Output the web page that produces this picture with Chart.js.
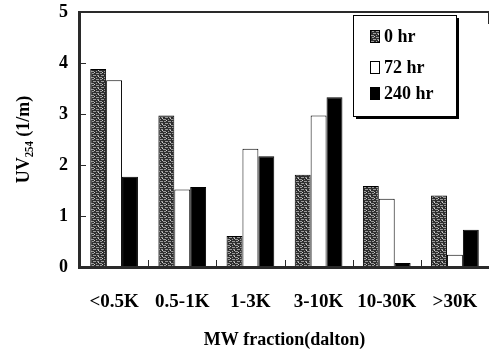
<!DOCTYPE html>
<html><head><meta charset="utf-8">
<script src="https://cdn.jsdelivr.net/npm/chart.js@4/dist/chart.umd.min.js"></script>
<style>html,body{margin:0;padding:0;background:#fff;}#wrap{width:490px;height:351px;}</style>
</head><body><div id="wrap"><canvas id="c" width="490" height="351"></canvas></div>
<script>
const categories = ['<0.5K', '0.5-1K', '1-3K', '3-10K', '10-30K', '>30K'];
const seriesLabels = ['0 hr', '72 hr', '240 hr'];
const hr0 = [3.88, 2.97, 0.61, 1.81, 1.59, 1.40];
const hr72 = [3.66, 1.52, 2.32, 2.97, 1.34, 0.24];
const hr240 = [1.77, 1.57, 2.17, 3.33, 0.08, 0.73];
const yTicks = [0, 1, 2, 3, 4, 5];

const FONT = '"Liberation Serif", "Times New Roman", serif';
const AXIS = '#2a2a2a';

function makePattern() {
  const pc = document.createElement('canvas');
  pc.width = 8; pc.height = 6;
  const g = pc.getContext('2d');
  g.fillStyle = '#2e2e2e'; g.fillRect(0, 0, 8, 6);
  g.fillStyle = '#9a9a9a';
  g.fillRect(0, 1, 3, 1); g.fillRect(4, 1, 2, 1);
  g.fillRect(1, 3, 2, 1); g.fillRect(5, 3, 3, 1);
  g.fillRect(0, 5, 1, 1); g.fillRect(3, 5, 3, 1);
  g.fillStyle = '#cfcfcf';
  g.fillRect(6, 0, 1, 1); g.fillRect(2, 4, 1, 1);
  return pc.getContext('2d').createPattern(pc, 'repeat');
}
const pat = makePattern();

const fills = [pat, '#ffffff', '#000000'];

const frame = {
  id: 'frame',
  afterDraw(chart) {
    const ctx = chart.ctx;
    const xs = chart.scales.x, ys = chart.scales.y;
    const L = Math.round(xs.left), R = Math.round(xs.right), T = Math.round(ys.top), B = Math.round(ys.bottom);
    ctx.save();
    ctx.fillStyle = AXIS;
    ctx.fillRect(L - 2, T - 1, 3, B - T + 3);
    ctx.fillRect(L - 2, B - 1, R - L + 2, 3);
    ctx.fillRect(L - 2, T - 1, R - L + 2, 2);
    ctx.fillRect(R - 1, T, 1, 12);
    yTicks.forEach(v => {
      const y = Math.round(ys.getPixelForValue(v));
      ctx.fillRect(L + 1, y, 5, 1);
    });
    const n = categories.length;
    for (let i = 1; i < n; i++) {
      const x = Math.round((xs.getPixelForValue(i - 1) + xs.getPixelForValue(i)) / 2);
      ctx.fillRect(x, B - 7, 1, 7);
    }
    // legend box
    const bx = 353, by = 15, bw = 103, bh = 101;
    ctx.fillStyle = '#000';
    ctx.fillRect(bx + 3, by + 3, bw, bh);
    ctx.fillStyle = '#fff';
    ctx.fillRect(bx, by, bw, bh);
    ctx.strokeStyle = '#000'; ctx.lineWidth = 1;
    ctx.strokeRect(bx + 0.5, by + 0.5, bw, bh);
    const rows = [36, 67, 93];
    ctx.font = 'bold 18px ' + FONT;
    ctx.textBaseline = 'middle';
    ctx.textAlign = 'left';
    chart.data.datasets.forEach((ds, i) => {
      const y = rows[i];
      ctx.fillStyle = fills[i];
      ctx.fillRect(370, y - 6, 10, 13);
      ctx.strokeStyle = '#000';
      ctx.strokeRect(370.5, y - 5.5, 9, 12);
      ctx.fillStyle = '#000';
      ctx.fillText(ds.label, 384, y + 1);
    });
    ctx.restore();
  }
};

new Chart(document.getElementById('c'), {
  type: 'bar',
  data: {
    labels: categories,
    datasets: [
      { label: seriesLabels[0], data: hr0, backgroundColor: pat, borderColor: '#000', borderWidth: 1 },
      { label: seriesLabels[1], data: hr72, backgroundColor: '#fff', borderColor: '#000', borderWidth: 1 },
      { label: seriesLabels[2], data: hr240, backgroundColor: '#000', borderColor: '#000', borderWidth: 1 }
    ]
  },
  options: {
    responsive: false,
    animation: false,
    devicePixelRatio: 1,
    layout: { padding: { top: 12, right: 1, left: 0, bottom: 0 } },
    plugins: { legend: { display: false }, tooltip: { enabled: false } },
    datasets: { bar: { barPercentage: 1.0, categoryPercentage: 0.7 } },
    scales: {
      x: {
        grid: { display: false, drawTicks: false },
        border: { display: false },
        ticks: { color: '#000', font: { family: FONT, size: 19, weight: 'bold' }, padding: 24, maxRotation: 0 },
        title: { display: true, text: 'MW fraction(dalton)', color: '#000', font: { family: FONT, size: 18, weight: 'bold' }, padding: { top: 14, bottom: 0 } },
        afterFit: s => { s.height = 84; s.paddingLeft = 0; s.paddingRight = 0; }
      },
      y: {
        min: 0, max: 5,
        grid: { display: false, drawTicks: false },
        border: { display: false },
        ticks: { stepSize: 1, color: '#000', font: { family: FONT, size: 18, weight: 'bold' }, padding: 12 },
        title: { display: true, text: 'UV₂₅₄ (1/m)', color: '#000', font: { family: FONT, size: 18, weight: 'bold' }, padding: { top: 14, bottom: 0 } },
        afterFit: s => { s.width = 80; s.paddingTop = 0; s.paddingBottom = 0; }
      }
    }
  },
  plugins: [frame]
});
</script></body></html>
